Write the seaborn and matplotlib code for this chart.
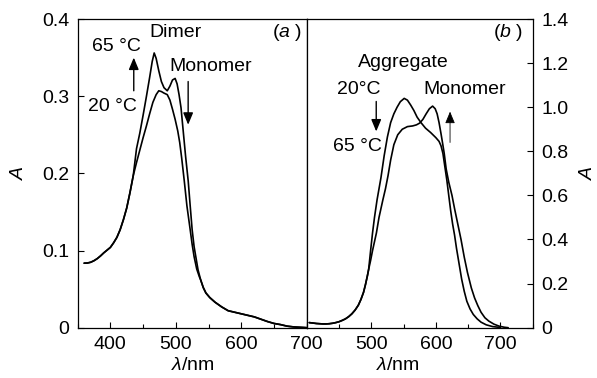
import matplotlib
matplotlib.use("Agg")
import matplotlib.pyplot as plt
import seaborn as sns
import pandas as pd
from matplotlib.ticker import MultipleLocator

# ---------------- data ----------------
# panel (a)
a_common_wl = [360, 365, 370, 375, 380, 385, 390, 395, 400, 405, 410, 415, 420, 425, 430, 435]
a_common_A = [0.0836, 0.0838, 0.0848, 0.0868, 0.0895, 0.093, 0.097, 0.1005, 0.104, 0.110, 0.117,
              0.127, 0.140, 0.155, 0.175, 0.197]
a_65_wl = [440, 445, 450, 455, 460, 464, 467, 470, 474, 478, 482, 487, 491, 495, 499, 502, 505,
           508, 511, 515, 519, 522, 525, 528, 531, 534, 538, 542, 546, 552, 560, 570, 580, 590,
           600, 610, 620, 630, 640, 650, 660, 670, 680, 690, 700]
a_65_A = [0.232, 0.252, 0.275, 0.299, 0.324, 0.345, 0.356, 0.349, 0.333, 0.319, 0.311, 0.307,
          0.313, 0.321, 0.323, 0.316, 0.302, 0.285, 0.258, 0.222, 0.190, 0.158, 0.127, 0.105,
          0.090, 0.075, 0.062, 0.052, 0.045, 0.039, 0.033, 0.027, 0.022, 0.020, 0.018, 0.016,
          0.014, 0.011, 0.008, 0.0055, 0.004, 0.002, 0.001, 0.0005, 0.0]
a_20_wl = [440, 445, 450, 455, 460, 465, 470, 474, 478, 482, 487, 491, 495, 499, 503, 506, 509,
           513, 517, 522, 525, 528, 532, 536]
a_20_A = [0.214, 0.230, 0.246, 0.261, 0.277, 0.292, 0.302, 0.307, 0.306, 0.304, 0.302, 0.295,
          0.283, 0.270, 0.255, 0.240, 0.220, 0.190, 0.158, 0.127, 0.108, 0.092, 0.076, 0.066]

# panel (b)
b_common_wl = [404, 410, 415, 420, 425, 430, 435, 440, 445, 450, 455, 460, 465, 470, 475, 480,
               484, 488, 491, 494, 496]
b_common_A = [0.023, 0.021, 0.019, 0.018, 0.017, 0.017, 0.018, 0.020, 0.023, 0.027, 0.033, 0.040,
              0.050, 0.063, 0.080, 0.102, 0.128, 0.160, 0.195, 0.235, 0.265]
b_20_wl = [499, 502, 505, 509, 515, 520, 525, 530, 535, 540, 545, 551, 556, 561, 566, 571, 577,
           584, 592, 600, 605, 608, 611, 614, 617, 620, 623, 626, 629, 632, 636, 640, 644, 648,
           653, 658, 664, 670, 678, 688, 700]
b_20_A = [0.35, 0.43, 0.50, 0.58, 0.68, 0.78, 0.865, 0.93, 0.97, 1.00, 1.025, 1.04, 1.032, 1.01,
          0.985, 0.955, 0.93, 0.905, 0.885, 0.862, 0.845, 0.825, 0.79, 0.73, 0.67, 0.60, 0.53,
          0.47, 0.42, 0.36, 0.29, 0.22, 0.165, 0.12, 0.085, 0.06, 0.04, 0.025, 0.013, 0.005, 0.001]
b_65_wl = [499, 502, 505, 508, 512, 518, 522, 526, 530, 535, 541, 548, 556, 564, 570, 575, 580,
           585, 590, 595, 599, 602, 605, 608, 610, 613, 616, 620, 625, 629, 634, 639, 644, 649,
           655, 660, 665, 670, 676, 682, 690, 698, 706, 712]
b_65_A = [0.305, 0.35, 0.39, 0.43, 0.50, 0.58, 0.63, 0.69, 0.76, 0.83, 0.875, 0.90, 0.912, 0.915,
          0.92, 0.928, 0.945, 0.97, 0.993, 1.005, 0.993, 0.97, 0.93, 0.88, 0.845, 0.79, 0.72,
          0.66, 0.60, 0.54, 0.47, 0.40, 0.32, 0.25, 0.18, 0.135, 0.10, 0.07, 0.045, 0.03, 0.016,
          0.007, 0.002, 0.0]

a_xticks = [400, 500, 600, 700]
a_yticks = [0, 0.1, 0.2, 0.3, 0.4]
a_yticklabels = ["0", "0.1", "0.2", "0.3", "0.4"]
b_xticks = [500, 600, 700]
b_yticks = [0, 0.2, 0.4, 0.6, 0.8, 1.0, 1.2, 1.4]
b_yticklabels = ["0", "0.2", "0.4", "0.6", "0.8", "1.0", "1.2", "1.4"]

# ---------------- style ----------------
sns.set_theme(style="ticks")
plt.rcParams["font.family"] = ["Liberation Sans", "DejaVu Sans"]
plt.rcParams["mathtext.fontset"] = "custom"
plt.rcParams["mathtext.rm"] = "Liberation Sans"
plt.rcParams["mathtext.it"] = "Liberation Sans:italic"
plt.rcParams["axes.linewidth"] = 0.9
plt.rcParams["axes.edgecolor"] = "black"
plt.rcParams["text.color"] = "black"
plt.rcParams["axes.labelcolor"] = "black"
plt.rcParams["xtick.color"] = "black"
plt.rcParams["ytick.color"] = "black"

FS = 14
fig = plt.figure(figsize=(5.97, 3.78), dpi=100)
ax1 = fig.add_axes([0.130, 0.1331, 0.3837, 0.8166])
ax2 = fig.add_axes([0.5137, 0.1331, 0.3786, 0.8166])

LW = 1.2


def make_df(common_wl, common_A, wl, A):
    return pd.DataFrame({"wl": list(common_wl) + list(wl), "A": list(common_A) + list(A)})


df_a65 = make_df(a_common_wl, a_common_A, a_65_wl, a_65_A)
df_a20 = make_df(a_common_wl, a_common_A, a_20_wl, a_20_A)
# low curve rejoins the high one after 536 nm
tail = [(w, v) for w, v in zip(a_65_wl, a_65_A) if w > 536]
df_a20 = pd.concat([df_a20, pd.DataFrame({"wl": [t[0] for t in tail], "A": [t[1] for t in tail]})],
                   ignore_index=True)
df_b20 = make_df(b_common_wl, b_common_A, b_20_wl, b_20_A)
df_b65 = make_df(b_common_wl, b_common_A, b_65_wl, b_65_A)

for df in (df_a65, df_a20):
    sns.lineplot(data=df, x="wl", y="A", ax=ax1, color="black", lw=LW, sort=False, estimator=None)
for df in (df_b20, df_b65):
    sns.lineplot(data=df, x="wl", y="A", ax=ax2, color="black", lw=LW, sort=False, estimator=None)

# ---------------- axes (a) ----------------
ax1.set_xlim(350, 700)
ax1.set_ylim(0, 0.4)
ax1.set_xticks(a_xticks)
ax1.xaxis.set_minor_locator(MultipleLocator(50))
ax1.set_yticks(a_yticks)
ax1.set_yticklabels(a_yticklabels)
ax1.tick_params(axis="both", which="both", direction="in", length=4, width=0.8,
                labelsize=FS, colors="black")
ax1.tick_params(axis="x", pad=6)
ax1.tick_params(axis="y", pad=6)
ax1.tick_params(axis="x", which="minor", length=3)
ax1.set_xlabel(r"$\lambda$/nm", fontsize=FS, color="black")
ax1.set_ylabel("A", fontsize=FS, style="italic", color="black")
ax1.xaxis.set_label_coords(0.5035, -0.095)
ax1.yaxis.set_label_coords(-0.215, 0.5)
for s in ax1.spines.values():
    s.set_visible(True)
    s.set_color("black")

# ---------------- axes (b) ----------------
ax2.set_xlim(400, 750)
ax2.set_ylim(0, 1.4)
ax2.set_xticks(b_xticks)
ax2.xaxis.set_minor_locator(MultipleLocator(50))
ax2.set_yticks(b_yticks)
ax2.set_yticklabels(b_yticklabels)
ax2.yaxis.tick_right()
ax2.yaxis.set_label_position("right")
ax2.tick_params(axis="both", which="both", direction="in", length=4, width=0.8,
                labelsize=FS, colors="black")
ax2.tick_params(axis="x", pad=6)
ax2.tick_params(axis="y", pad=6)
ax2.tick_params(axis="x", which="minor", length=3)
ax2.set_xlabel(r"$\lambda$/nm", fontsize=FS, color="black")
ax2.set_ylabel("A", fontsize=FS, style="italic", color="black")
ax2.xaxis.set_label_coords(0.404, -0.095)
ax2.yaxis.set_label_coords(1.21, 0.5)
for s in ax2.spines.values():
    s.set_visible(True)
    s.set_color("black")

# ---------------- annotations ----------------
TFS = 14
arrow_kw = dict(arrowstyle="-|>,head_length=0.6,head_width=0.25", color="black", lw=1.0,
                shrinkA=0, shrinkB=0)

ax1.text(498.9, 0.3827, "Dimer", fontsize=TFS, ha="center", va="center", color="black")
ax1.text(408.9, 0.3645, "65 °C", fontsize=TFS, ha="center", va="center", color="black")
ax1.text(403.5, 0.2866, "20 °C", fontsize=TFS, ha="center", va="center", color="black")
ax1.text(554, 0.3385, "Monomer", fontsize=TFS, ha="center", va="center", color="black")
ax1.text(670.5, 0.3827, r"($\it{a}$ )", fontsize=TFS, ha="center", va="center", color="black")
ax1.annotate("", xy=(435.8, 0.350), xytext=(435.8, 0.307), arrowprops=arrow_kw)
ax1.annotate("", xy=(518.9, 0.263), xytext=(518.9, 0.319), arrowprops=arrow_kw)

ax2.text(549.7, 1.203, "Aggregate", fontsize=TFS, ha="center", va="center", color="black")
ax2.text(481.2, 1.080, "20°C", fontsize=TFS, ha="center", va="center", color="black")
ax2.text(478.2, 0.821, "65 °C", fontsize=TFS, ha="center", va="center", color="black")
ax2.text(645, 1.080, "Monomer", fontsize=TFS, ha="center", va="center", color="black")
ax2.text(712, 1.34, r"($\it{b}$ )", fontsize=TFS, ha="center", va="center", color="black")
ax2.annotate("", xy=(507.7, 0.89), xytext=(507.7, 1.026), arrowprops=arrow_kw)
arrow_kw2 = dict(arrow_kw)
arrow_kw2["lw"] = 0.6
ax2.annotate("", xy=(622, 0.98), xytext=(622, 0.84), arrowprops=arrow_kw2)

fig.savefig("out.png", dpi=100)
